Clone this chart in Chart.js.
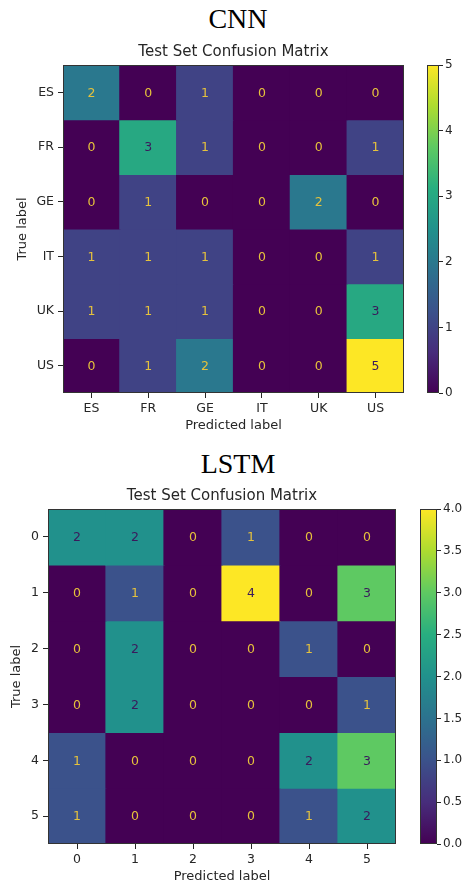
<!DOCTYPE html>
<html>
<head>
<meta charset="utf-8">
<script src="https://cdn.jsdelivr.net/npm/chart.js@4.4.1/dist/chart.umd.min.js"></script>
<style>
  html, body { margin: 0; padding: 0; background: #fff; overflow: hidden; }
  body { width: 469px; height: 886px; position: relative; }
  .head { position: absolute; left: 0; width: 476px; text-align: center; font-family: "Liberation Serif", "DejaVu Serif", serif; font-size: 28px; line-height: 28px; color: #000; }
  .box { position: absolute; }
</style>
</head>
<body>
<div class="head" style="top:5px">CNN</div>
<div class="box" style="left:0;top:40px;width:408px;height:398px"><canvas id="cnnMatrix"></canvas></div>
<div class="box" style="left:427px;top:55px;width:42px;height:348px"><canvas id="cnnBar"></canvas></div>

<div class="head" style="top:450px">LSTM</div>
<div class="box" style="left:0;top:484px;width:400px;height:402px"><canvas id="lstmMatrix"></canvas></div>
<div class="box" style="left:420px;top:499px;width:47px;height:355px"><canvas id="lstmBar"></canvas></div>

<script>
const cnnLabels = ["ES", "FR", "GE", "IT", "UK", "US"];
const cnnValues = [
  [2, 0, 1, 0, 0, 0],
  [0, 3, 1, 0, 0, 1],
  [0, 1, 0, 0, 2, 0],
  [1, 1, 1, 0, 0, 1],
  [1, 1, 1, 0, 0, 3],
  [0, 1, 2, 0, 0, 5],
];
const cnnBarTicks = [0, 1, 2, 3, 4, 5];

const lstmLabels = ["0", "1", "2", "3", "4", "5"];
const lstmValues = [
  [2, 2, 0, 1, 0, 0],
  [0, 1, 0, 4, 0, 3],
  [0, 2, 0, 0, 1, 0],
  [0, 2, 0, 0, 0, 1],
  [1, 0, 0, 0, 2, 3],
  [1, 0, 0, 0, 1, 2],
];
const lstmBarTicks = [0, 0.5, 1, 1.5, 2, 2.5, 3, 3.5, 4];

const FONT = "'DejaVu Sans', sans-serif";
const INK = "#262626";

// viridis key colours
const VIRIDIS = ["#440154", "#472d7b", "#3b528b", "#2c728e", "#21918c", "#28ae80", "#5ec962", "#addc30", "#fde725"];

function hexRgb(h) {
  return [1, 3, 5].map((i) => parseInt(h.slice(i, i + 2), 16));
}

function viridis(t) {
  t = Math.max(0, Math.min(1, t));
  const p = t * (VIRIDIS.length - 1);
  const i = Math.min(Math.floor(p), VIRIDIS.length - 2);
  const f = p - i;
  const a = hexRgb(VIRIDIS[i]), b = hexRgb(VIRIDIS[i + 1]);
  const c = a.map((v, k) => Math.round(v + (b[k] - v) * f));
  return `rgb(${c[0]},${c[1]},${c[2]})`;
}

const frame = {
  id: "frame",
  afterDraw(chart) {
    const { ctx, chartArea: a } = chart;
    ctx.save();
    ctx.strokeStyle = "#333";
    ctx.lineWidth = 1;
    ctx.strokeRect(Math.round(a.left) + 0.5, Math.round(a.top) + 0.5, Math.round(a.right - a.left) - 1, Math.round(a.bottom - a.top) - 1);
    ctx.restore();
  },
};

const cellText = {
  id: "cellText",
  afterDatasetsDraw(chart, args, opts) {
    const { ctx, scales } = chart;
    const vals = opts.values;
    const max = Math.max(...vals.flat());
    const min = Math.min(...vals.flat());
    const thresh = (max + min) / 2;
    ctx.save();
    ctx.font = "12.5px " + FONT;
    ctx.textAlign = "center";
    ctx.textBaseline = "middle";
    vals.forEach((row, i) => {
      row.forEach((v, j) => {
        ctx.fillStyle = v < thresh ? "#e6c23c" : "#3a1a5c";
        ctx.fillText(String(v), scales.x.getPixelForValue(j), scales.y.getPixelForValue(i) + 1);
      });
    });
    ctx.restore();
  },
};

function drawMatrix(id, labels, values, opt) {
  const max = Math.max(...values.flat());
  const datasets = values.map((row, i) => ({
    data: row.map(() => [i - 0.5, i + 0.5]),
    backgroundColor: row.map((v) => viridis(v / max)),
    borderWidth: 0,
    inflateAmount: 0.6,
    grouped: false,
    barPercentage: 1,
    categoryPercentage: 1,
  }));
  return new Chart(document.getElementById(id), {
    type: "bar",
    data: { labels, datasets },
    plugins: [cellText, frame],
    options: {
      responsive: true,
      maintainAspectRatio: false,
      animation: false,
      layout: { padding: { left: 0, right: 4, top: 0, bottom: 0 } },
      plugins: {
        legend: { display: false },
        tooltip: { enabled: false },
        title: {
          display: true,
          fullSize: false,
          text: "Test Set Confusion Matrix",
          color: INK,
          font: { family: FONT, size: 15, weight: "normal" },
          padding: { top: 3, bottom: 4 },
        },
        cellText: { values },
      },
      scales: {
        x: {
          type: "category",
          offset: true,
          afterFit: (s) => { s.height = opt.xHeight; },
          grid: { offset: false, drawOnChartArea: false, drawTicks: true, tickLength: 5, color: INK },
          border: { display: false },
          ticks: { color: INK, padding: 3, font: { family: FONT, size: 12.5 } },
          title: { display: true, text: "Predicted label", color: INK, font: { family: FONT, size: 13 }, padding: { top: 0, bottom: opt.xTitlePad } },
        },
        y: {
          type: "linear",
          min: -0.5,
          max: labels.length - 0.5,
          reverse: true,
          afterFit: (s) => { s.width = opt.yWidth; },
          afterBuildTicks: (s) => { s.ticks = labels.map((_, i) => ({ value: i })); },
          grid: { drawOnChartArea: false, drawTicks: true, tickLength: 5, color: INK },
          border: { display: false },
          ticks: { color: INK, padding: 4, font: { family: FONT, size: 12.5 }, callback: (v) => labels[v] },
          title: { display: true, text: "True label", color: INK, font: { family: FONT, size: 13 }, padding: { top: opt.yTitlePad, bottom: 0 } },
        },
      },
    },
  });
}

function drawColorbar(id, ticks, decimals) {
  const max = ticks[ticks.length - 1];
  return new Chart(document.getElementById(id), {
    type: "bar",
    data: {
      labels: [""],
      datasets: [{
        data: [[0, max]],
        borderWidth: 0,
        barPercentage: 1,
        categoryPercentage: 1,
        backgroundColor: (c) => {
          const a = c.chart.chartArea;
          if (!a) return VIRIDIS[0];
          const g = c.chart.ctx.createLinearGradient(0, a.bottom, 0, a.top);
          VIRIDIS.forEach((col, i) => g.addColorStop(i / (VIRIDIS.length - 1), col));
          return g;
        },
      }],
    },
    plugins: [frame],
    options: {
      responsive: true,
      maintainAspectRatio: false,
      animation: false,
      layout: { padding: { left: 0, right: 0, top: 10, bottom: 10 } },
      plugins: { legend: { display: false }, tooltip: { enabled: false } },
      scales: {
        x: { display: false },
        y: {
          position: "right",
          min: 0,
          max,
          afterFit: (s) => { s.width = 30; },
          afterBuildTicks: (s) => { s.ticks = ticks.map((v) => ({ value: v })); },
          grid: { drawOnChartArea: false, drawTicks: true, tickLength: 4, color: INK },
          border: { display: false },
          ticks: { color: INK, padding: 2, font: { family: FONT, size: 12 }, callback: (v) => v.toFixed(decimals) },
        },
      },
    },
  });
}

drawMatrix("cnnMatrix", cnnLabels, cnnValues, { xHeight: 45, xTitlePad: 5, yWidth: 63, yTitlePad: 15 });
drawColorbar("cnnBar", cnnBarTicks, 0);
drawMatrix("lstmMatrix", lstmLabels, lstmValues, { xHeight: 42, xTitlePad: 2, yWidth: 48, yTitlePad: 9 });
drawColorbar("lstmBar", lstmBarTicks, 1);
</script>
</body>
</html>
